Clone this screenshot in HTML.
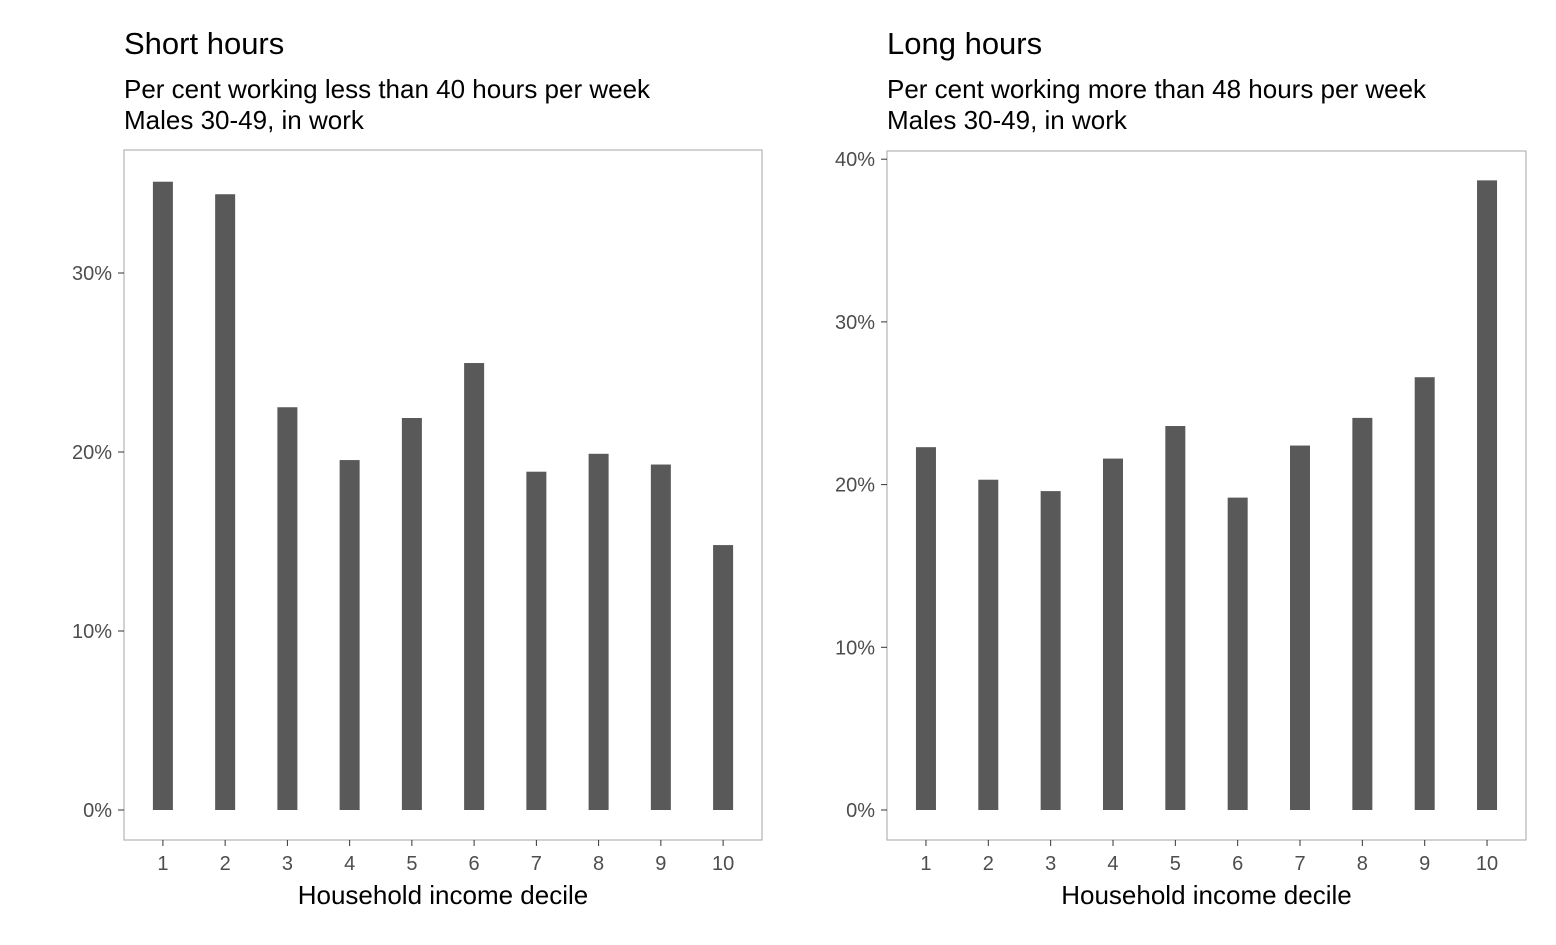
<!DOCTYPE html>
<html><head><meta charset="utf-8"><style>
body{margin:0;background:#fff;}
svg text{font-family:"Liberation Sans",Arial,sans-serif;}
</style></head><body>
<svg id="c" width="1556" height="940" xmlns="http://www.w3.org/2000/svg"></svg>
<script>
const categories=["1","2","3","4","5","6","7","8","9","10"];
const shortValues=[35.1,34.4,22.5,19.55,21.9,24.97,18.9,19.9,19.3,14.8];
const longValues=[22.3,20.3,19.6,21.6,23.6,19.2,22.4,24.1,26.6,38.7];
const shortTicks=[0,10,20,30];
const longTicks=[0,10,20,30,40];
const NS="http://www.w3.org/2000/svg";
const svg=document.getElementById('c');
function mk(tag,attrs,parent){const e=document.createElementNS(NS,tag);for(const k in attrs)e.setAttribute(k,attrs[k]);(parent||svg).appendChild(e);return e;}
function panel(p){
  const g=mk('g',{});
  
  
  const t=mk('text',{x:p.x0,y:54,'font-size':31,fill:'#000'},g);t.textContent=p.title;
  
  const s1=mk('text',{x:p.x0,y:98,'font-size':26,fill:'#000'},g);s1.textContent=p.sub;
  
  const s2=mk('text',{x:p.x0,y:129,'font-size':26,fill:'#000'},g);s2.textContent="Males 30-49, in work";
  
  const box=mk('rect',{x:p.x0,y:p.y0,width:p.x1-p.x0,height:840-p.y0,fill:'none',stroke:'#b3b3b3','stroke-width':1.2},g);
  
  const y=v=>810-v*p.ppu;
  const step=(p.x1-p.x0)/10.25;
  const x=i=>p.x0+step*(0.625+i);
  p.ticks.forEach(v=>{
    const l=mk('line',{x1:p.x0-6,x2:p.x0,y1:y(v),y2:y(v),stroke:'#333','stroke-width':1},g);
    
    const tl=mk('text',{x:p.x0-12,y:y(v)+7,'font-size':20,fill:'#4d4d4d','text-anchor':'end'},g);tl.textContent=v+'%';
    
  });
  categories.forEach((c,i)=>{
    const b=mk('rect',{x:x(i)-10,y:y(p.vals[i]),width:20,height:p.vals[i]*p.ppu,fill:'#595959'},g);
    
    const l=mk('line',{x1:x(i),x2:x(i),y1:840,y2:846,stroke:'#333','stroke-width':1},g);
    
    const tl=mk('text',{x:x(i),y:870,'font-size':20,fill:'#4d4d4d','text-anchor':'middle'},g);tl.textContent=c;
    
  });
  const at=mk('text',{x:(p.x0+p.x1)/2,y:904,'font-size':26,fill:'#000','text-anchor':'middle'},g);at.textContent="Household income decile";
  
}
panel({name:'short-hours-panel',x0:124,x1:762,y0:150,ppu:17.9,ticks:shortTicks,vals:shortValues,title:"Short hours",sub:"Per cent working less than 40 hours per week"});
panel({name:'long-hours-panel',x0:887,x1:1526,y0:151,ppu:16.27,ticks:longTicks,vals:longValues,title:"Long hours",sub:"Per cent working more than 48 hours per week"});
</script>
</body></html>
